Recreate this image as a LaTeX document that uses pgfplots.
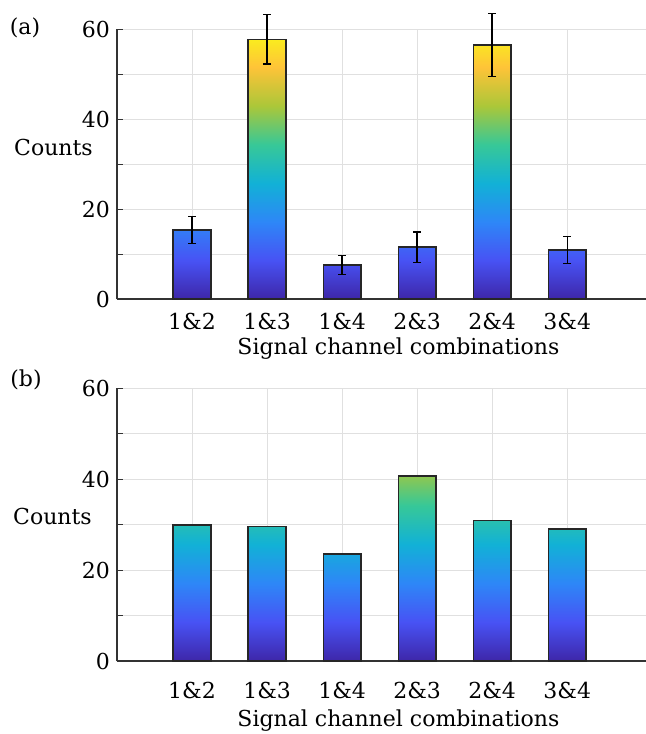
\documentclass[border=0pt]{standalone}
\usepackage{fontspec}
\setmainfont{DejaVu Serif}
\usepackage{pgfplots}
\pgfplotsset{compat=1.18}

\pgfplotsset{
  colormap={parula}{
    rgb=(0.2422,0.1504,0.6603)
    rgb=(0.2810,0.3228,0.9579)
    rgb=(0.1786,0.5289,0.9682)
    rgb=(0.0689,0.6948,0.8394)
    rgb=(0.2161,0.7843,0.5923)
    rgb=(0.6720,0.7793,0.2227)
    rgb=(0.9970,0.7659,0.2199)
    rgb=(0.9769,0.9839,0.0805)},
  panel/.style={
    scale only axis,
    width=264.5pt,
    xmin=0, xmax=7.05, ymin=0, ymax=60,
    clip=false,
    xtick={1,2,3,4,5,6},
    xticklabels={1\&2,1\&3,1\&4,2\&3,2\&4,3\&4},
    ytick={0,20,40,60},
    minor ytick={10,30,50},
    grid=both,
    grid style={black!12, line width=0.4pt},
    minor grid style={black!12, line width=0.4pt},
    axis x line*=bottom, axis y line*=left,
    axis line style={black!80, line width=0.6pt},
    tick align=inside,
    major tick length=3pt, minor tick length=3pt,
    xtick style={draw=none},
    ytick style={black!80, line width=0.5pt},
    tick label style={font=\fontsize{11}{13}\selectfont},
    /pgf/number format/assume math mode=true,
    label style={font=\fontsize{11}{13}\selectfont},
    colormap name=parula,
    point meta min=0, point meta max=60,
    xlabel={Signal channel combinations},
    ylabel={Counts},
  },
}

\begin{document}
\begin{tikzpicture}
\useasboundingbox (0,0) rectangle (323pt,-367pt);

% ---------------- panel (a)
\begin{axis}[panel,
  at={(58.5pt,-149.5pt)}, anchor=south west,
  height=135pt,
  xticklabel style={anchor=center, yshift=-11pt},
  xlabel style={at={(axis description cs:0.532,0)}, anchor=center, yshift=-25pt},
  ylabel style={rotate=-90, at={(axis description cs:-0.12,0.56)}, anchor=center},
]
\addplot[patch, patch type=rectangle, shader=interp, point meta=y] table {
x y
0.75 0
1.25 0
1.25 15.4
0.75 15.4
1.75 0
2.25 0
2.25 57.7
1.75 57.7
2.75 0
3.25 0
3.25 7.6
2.75 7.6
3.75 0
4.25 0
4.25 11.5
3.75 11.5
4.75 0
5.25 0
5.25 56.4
4.75 56.4
5.75 0
6.25 0
6.25 10.9
5.75 10.9
};
\addplot[ybar, bar width=0.5, bar shift=0pt, draw=black!85, line width=0.85pt, fill=none,
  error bars/.cd, y dir=both, y explicit,
  error bar style={black, line width=0.7pt},
  error mark options={black, line width=0.7pt, mark size=2pt, rotate=90}]
coordinates {
(1,15.4) +- (0,3.0)
(2,57.7) +- (0,5.5)
(3,7.6) +- (0,2.1)
(4,11.5) +- (0,3.4)
(5,56.4) +- (0,7.0)
(6,10.9) +- (0,3.0)
};
\end{axis}

% ---------------- panel (b)
\begin{axis}[panel,
  at={(58.5pt,-330.5pt)}, anchor=south west,
  height=136.3pt,
  xticklabel style={anchor=center, yshift=-14.5pt},
  xlabel style={at={(axis description cs:0.532,0)}, anchor=center, yshift=-30pt},
  ylabel style={rotate=-90, at={(axis description cs:-0.122,0.532)}, anchor=center},
]
\addplot[patch, patch type=rectangle, shader=interp, point meta=y] table {
x y
0.75 0
1.25 0
1.25 29.9
0.75 29.9
1.75 0
2.25 0
2.25 29.6
1.75 29.6
2.75 0
3.25 0
3.25 23.5
2.75 23.5
3.75 0
4.25 0
4.25 40.7
3.75 40.7
4.75 0
5.25 0
5.25 30.9
4.75 30.9
5.75 0
6.25 0
6.25 29.1
5.75 29.1
};
\addplot[ybar, bar width=0.5, bar shift=0pt, draw=black!85, line width=0.85pt, fill=none]
coordinates {
(1,29.9) (2,29.6) (3,23.5) (4,40.7) (5,30.9) (6,29.1)
};
\end{axis}

\node[font=\fontsize{11}{13}\selectfont] at (12.5pt,-14pt) {(a)};
\node[font=\fontsize{11}{13}\selectfont] at (13pt,-190pt) {(b)};
\end{tikzpicture}
\end{document}
